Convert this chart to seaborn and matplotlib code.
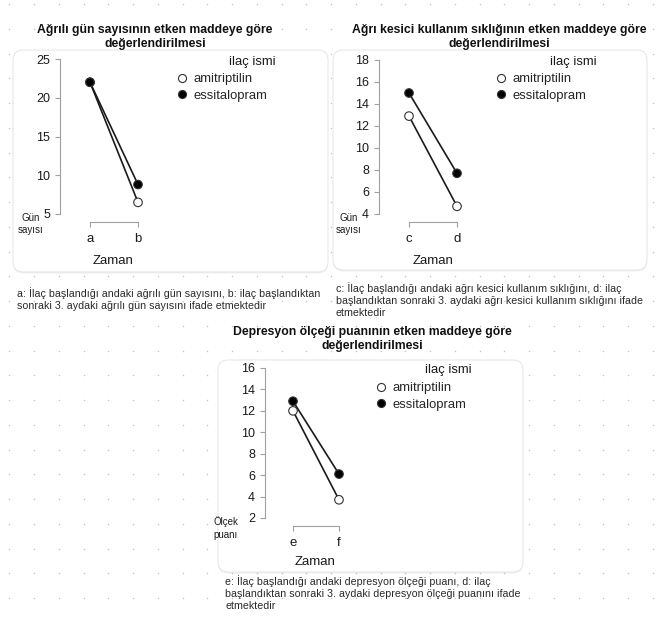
import numpy as np
import pandas as pd
import seaborn as sns
import matplotlib.pyplot as plt
from matplotlib.patches import FancyBboxPatch
from matplotlib.lines import Line2D

# data
ilac = ['amitriptilin', 'essitalopram']

zaman1 = ['a', 'b']
amitriptilin1 = [22.0, 6.5]
essitalopram1 = [22.0, 8.8]

zaman2 = ['c', 'd']
amitriptilin2 = [12.9, 4.7]
essitalopram2 = [15.0, 7.7]

zaman3 = ['e', 'f']
amitriptilin3 = [12.0, 3.7]
essitalopram3 = [12.9, 6.1]

yticks1 = [5, 10, 15, 20, 25]
yticks2 = [4, 6, 8, 10, 12, 14, 16, 18]
yticks3 = [2, 4, 6, 8, 10, 12, 14, 16]

titles = ['Ağrılı gün sayısının etken maddeye göre\ndeğerlendirilmesi',
          'Ağrı kesici kullanım sıklığının etken maddeye göre\ndeğerlendirilmesi',
          'Depresyon ölçeği puanının etken maddeye göre\ndeğerlendirilmesi']
captions = ['a: İlaç başlandığı andaki ağrılı gün sayısını, b: ilaç başlandıktan\n'
            'sonraki 3. aydaki ağrılı gün sayısını ifade etmektedir',
            'c: İlaç başlandığı andaki ağrı kesici kullanım sıklığını, d: ilaç\n'
            'başlandıktan sonraki 3. aydaki ağrı kesici kullanım sıklığını ifade\n'
            'etmektedir',
            'e: İlaç başlandığı andaki depresyon ölçeği puanı, d: ilaç\n'
            'başlandıktan sonraki 3. aydaki depresyon ölçeği puanını ifade\n'
            'etmektedir']
ylabels = ['Gün\nsayısı', 'Gün\nsayısı', 'Ölçek\npuanı']

sns.set_style('ticks')
plt.rcParams['font.family'] = ['Liberation Sans', 'DejaVu Sans']

W, H = 659, 619
fig = plt.figure(figsize=(W / 100, H / 100), dpi=100)
fig.patch.set_facecolor('white')

# background layer in pixel coords
bg = fig.add_axes([0, 0, 1, 1])
bg.set_xlim(0, W)
bg.set_ylim(H, 0)
bg.axis('off')
gx, gy = np.meshgrid(np.arange(9.3, W, 24.75), np.arange(4, H, 24.75))
bg.scatter(gx.ravel(), gy.ravel(), s=1.2, color='#c4c4c4', lw=0, zorder=0)

# panel boxes (x0, y0, x1, y1)
boxes = [(13, 50, 328, 272), (333, 50, 647, 270), (218, 360, 523, 572)]
for x0, y0, x1, y1 in boxes:
    sh = FancyBboxPatch((x0, y0 + 1.5), x1 - x0, y1 - y0,
                        boxstyle='round,pad=0,rounding_size=10',
                        fc='#000000', ec='none', alpha=0.06, zorder=1)
    bg.add_patch(sh)
    p = FancyBboxPatch((x0, y0), x1 - x0, y1 - y0,
                       boxstyle='round,pad=0,rounding_size=10',
                       fc='white', ec='#e2e2e2', lw=0.6, zorder=2)
    bg.add_patch(p)

panels = [
    dict(zaman=zaman1, am=amitriptilin1, es=essitalopram1, yt=yticks1,
         ax_px=(60, 59, 320, 214), x0=90, x1=138,
         title=(155, 37), cap=(17, 299), ylab=(31, 224), xlab=(113, 261),
         leg=(175, 73), legt=(252, 62)),
    dict(zaman=zaman2, am=amitriptilin2, es=essitalopram2, yt=yticks2,
         ax_px=(379, 60, 640, 214), x0=409, x1=457,
         title=(499, 37), cap=(336, 300), ylab=(349, 224), xlab=(433, 261),
         leg=(494, 73), legt=(573, 62)),
    dict(zaman=zaman3, am=amitriptilin3, es=essitalopram3, yt=yticks3,
         ax_px=(265, 368, 515, 518), x0=293, x1=339,
         title=(372, 339), cap=(225, 593), ylab=(226, 528), xlab=(315, 562),
         leg=(374, 382), legt=(448, 370)),
]

for i, pn in enumerate(panels):
    l, t, r, b = pn['ax_px']
    ax = fig.add_axes([l / W, 1 - b / H, (r - l) / W, (b - t) / H])
    ax.set_facecolor('none')

    df = pd.DataFrame({
        'zaman': list(range(2)) * 2,
        'deger': pn['am'] + pn['es'],
        'ilac': [ilac[0]] * 2 + [ilac[1]] * 2,
    })
    sns.lineplot(data=df, x='zaman', y='deger', units='ilac', estimator=None,
                 color='#1a1a1a', lw=1.2, ax=ax, legend=False)
    sns.scatterplot(data=df, x='zaman', y='deger', hue='ilac',
                    palette={ilac[0]: 'white', ilac[1]: 'black'},
                    edgecolor='#333333', linewidth=0.8, s=38, ax=ax,
                    legend=False, zorder=5)

    px_per = pn['x1'] - pn['x0']
    ax.set_xlim((l - pn['x0']) / px_per, (r - pn['x0']) / px_per)
    ax.set_ylim(pn['yt'][0], pn['yt'][-1])
    ax.set_xticks([0, 1])
    ax.set_xticklabels(pn['zaman'])
    ax.set_yticks(pn['yt'])
    ax.set_xlabel('')
    ax.set_ylabel('')
    sns.despine(ax=ax, offset={'bottom': 5.8, 'left': 0}, trim=True)
    for s in ['left', 'bottom']:
        ax.spines[s].set_color('#a0a0a0')
        ax.spines[s].set_linewidth(0.8)
    ax.tick_params(colors='#a0a0a0', labelcolor='#1a1a1a', labelsize=9,
                   length=3.6, width=0.8)
    ax.tick_params(axis='y', pad=3.5)
    ax.tick_params(axis='x', pad=4, labelsize=9.5)

    handles = [Line2D([], [], ls='', marker='o', ms=5.8, mfc='white', mec='#333333', mew=0.8),
               Line2D([], [], ls='', marker='o', ms=5.8, mfc='black', mec='#333333', mew=0.8)]
    lx, ly = pn['leg']
    ax.legend(handles, ilac, loc='upper left', frameon=False, fontsize=9.4,
              bbox_to_anchor=(lx / W, 1 - ly / H), bbox_transform=fig.transFigure,
              borderpad=0, borderaxespad=0, handlelength=1.0, handletextpad=0.4,
              labelspacing=0.35)

    bg.text(*pn['legt'], 'ilaç ismi', ha='center', va='center', fontsize=9.4,
            color='#1a1a1a', zorder=10)
    bg.text(*pn['title'], titles[i], ha='center', va='center', fontsize=8.8,
            fontweight='bold', color='#111111', linespacing=1.2, zorder=10)
    bg.text(*pn['xlab'], 'Zaman', ha='center', va='center', fontsize=9.5,
            color='#1a1a1a', zorder=10)
    bg.text(*pn['ylab'], ylabels[i], ha='center', va='center', fontsize=7,
            color='#1a1a1a', linespacing=1.3, zorder=10)
    bg.text(*pn['cap'], captions[i], ha='left', va='center', fontsize=7.7,
            color='#2a2a2a', linespacing=1.2, zorder=10)

fig.savefig('out.png', dpi=100, facecolor='white')
